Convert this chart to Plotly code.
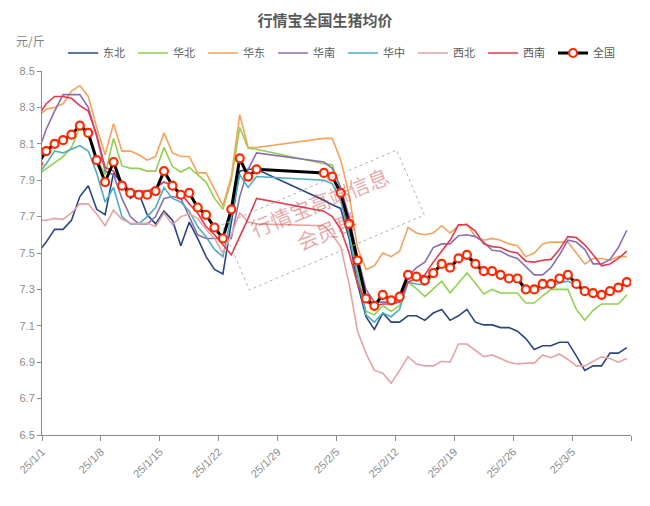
import pandas as pd
import plotly.graph_objects as go

# ---- categories (dates; 12/31 point only shows as the line entering the axis) ----
seg1 = pd.date_range("2024-12-31", "2025-01-26")
seg2 = pd.date_range("2025-02-03", "2025-03-11")
dates = [d.strftime("%Y-%m-%d 12:00") for d in list(seg1) + list(seg2)]

series_names = ["东北", "华北", "华东", "华南", "华中", "西北", "西南", "全国"]

dongbei = [7.50, 7.56, 7.63, 7.63, 7.68, 7.81, 7.87, 7.74, 7.71, 7.94, 7.88, 7.80, 7.83, 7.71, 7.66, 7.73, 7.68,
           7.54, 7.67, 7.58, 7.48, 7.41, 7.385, 7.66, 7.95, 7.96, 7.96,
           7.79, 7.765, 7.745, 7.58, 7.33, 7.15, 7.08, 7.17, 7.12, 7.12, 7.155, 7.155, 7.13, 7.17, 7.19, 7.13,
           7.155, 7.19, 7.12, 7.105, 7.105, 7.09, 7.09, 7.07, 7.03, 6.97, 6.99, 6.99, 7.01, 7.01, 6.935, 6.855,
           6.88, 6.88, 6.95, 6.95, 6.98]
huabei = [7.93, 7.965, 8.00, 8.03, 8.08, 8.19, 8.15, 8.02, 7.93, 8.13, 7.98, 7.965, 7.965, 7.95, 7.95, 8.08, 7.975,
          7.945, 7.97, 7.93, 7.89, 7.80, 7.74, 7.90, 8.19, 8.075, 8.07,
          7.99, 7.985, 7.85, 7.645, 7.41, 7.18, 7.16, 7.21, 7.18, 7.21, 7.34, 7.305, 7.26, 7.30, 7.345, 7.28,
          7.335, 7.39, 7.335, 7.275, 7.30, 7.28, 7.28, 7.28, 7.225, 7.225, 7.265, 7.30, 7.30, 7.30, 7.19, 7.13,
          7.185, 7.22, 7.22, 7.22, 7.27]
huadong = [8.25, 8.29, 8.30, 8.32, 8.39, 8.42, 8.36, 8.19, 8.04, 8.21, 8.06, 8.06, 8.04, 8.01, 8.03, 8.16, 8.05,
           8.03, 8.03, 7.94, 7.94, 7.85, 7.76, 7.92, 8.26, 8.08, 8.08,
           8.13, 8.13, 8.01, 7.82, 7.53, 7.41, 7.43, 7.50, 7.48, 7.51, 7.64, 7.61, 7.60, 7.61, 7.65, 7.61,
           7.65, 7.66, 7.59, 7.57, 7.58, 7.57, 7.55, 7.54, 7.48, 7.50, 7.55, 7.56, 7.56, 7.56, 7.50, 7.44,
           7.47, 7.47, 7.46, 7.48, 7.48]
huanan = [8.05, 8.18, 8.28, 8.37, 8.37, 8.37, 8.30, 8.14, 7.95, 7.93, 7.80, 7.70, 7.66, 7.66, 7.70, 7.80, 7.81,
          7.80, 7.70, 7.60, 7.58, 7.58, 7.58, 7.58, 7.81, 7.96, 8.05,
          8.00, 7.965, 7.86, 7.70, 7.48, 7.30, 7.23, 7.23, 7.23, 7.24, 7.37, 7.42, 7.45, 7.53, 7.55, 7.55,
          7.595, 7.60, 7.59, 7.56, 7.515, 7.51, 7.485, 7.47, 7.425, 7.38, 7.38, 7.42, 7.49, 7.57, 7.56, 7.52,
          7.44, 7.44, 7.465, 7.53, 7.625]
huazhong = [7.93, 7.99, 8.06, 8.05, 8.07, 8.09, 8.06, 7.94, 7.78, 7.86, 7.70, 7.66, 7.66, 7.70, 7.75, 7.86, 7.80,
            7.78, 7.73, 7.645, 7.59, 7.52, 7.48, 7.70, 7.93, 7.86, 7.92,
            7.90, 7.88, 7.79, 7.60, 7.37, 7.16, 7.12, 7.17, 7.15, 7.19, 7.34, 7.33, 7.325, 7.38, 7.435, 7.415,
            7.46, 7.48, 7.425, 7.395, 7.395, 7.38, 7.36, 7.35, 7.29, 7.29, 7.305, 7.315, 7.335, 7.345, 7.325, 7.28,
            7.27, 7.27, 7.28, 7.305, 7.335]
xibei = [7.68, 7.68, 7.69, 7.685, 7.72, 7.77, 7.77, 7.715, 7.65, 7.735, 7.685, 7.665, 7.66, 7.665, 7.645, 7.72, 7.655,
         7.70, 7.715, 7.69, 7.63, 7.58, 7.50, 7.60, 7.72, 7.67, 7.66,
         7.65, 7.60, 7.535, 7.33, 7.07, 6.95, 6.855, 6.84, 6.785, 6.855, 6.93, 6.89, 6.88, 6.88, 6.905, 6.90,
         7.00, 7.00, 6.965, 6.93, 6.94, 6.92, 6.90, 6.89, 6.895, 6.895, 6.94, 6.925, 6.945, 6.915, 6.88, 6.88,
         6.905, 6.93, 6.92, 6.90, 6.92]
xinan = [8.25, 8.32, 8.36, 8.36, 8.35, 8.31, 8.28, 8.15, 7.97, 7.95, 7.89, 7.84, 7.84, 7.84, 7.86, 7.89, 7.87,
         7.83, 7.77, 7.72, 7.645, 7.60, 7.545, 7.49, 7.59, 7.69, 7.80,
         7.73, 7.70, 7.63, 7.50, 7.33, 7.23, 7.21, 7.22, 7.22, 7.23, 7.34, 7.36, 7.38, 7.45, 7.51, 7.57,
         7.655, 7.655, 7.62, 7.55, 7.535, 7.53, 7.51, 7.50, 7.455, 7.45, 7.46, 7.465, 7.52, 7.59, 7.585, 7.545,
         7.49, 7.43, 7.44, 7.47, 7.51]
quanguo = [7.99, 8.06, 8.10, 8.12, 8.15, 8.20, 8.16, 8.01, 7.89, 8.00, 7.87, 7.83, 7.82, 7.82, 7.84, 7.95, 7.87,
           7.82, 7.83, 7.75, 7.71, 7.64, 7.58, 7.74, 8.02, 7.92, 7.96,
           7.94, 7.92, 7.83, 7.66, 7.46, 7.25, 7.21, 7.27, 7.24, 7.26, 7.38, 7.37, 7.35, 7.39, 7.44, 7.42,
           7.47, 7.49, 7.44, 7.40, 7.40, 7.38, 7.36, 7.36, 7.30, 7.30, 7.33, 7.33, 7.36, 7.38, 7.33, 7.29,
           7.28, 7.27, 7.29, 7.31, 7.34]

tick_dates = ["2025-01-01", "2025-01-08", "2025-01-15", "2025-01-22", "2025-01-29", "2025-02-05",
              "2025-02-12", "2025-02-19", "2025-02-26", "2025-03-05", "2025-03-12"]
tick_labels = ["25/1/1", "25/1/8", "25/1/15", "25/1/22", "25/1/29", "25/2/5",
               "25/2/12", "25/2/19", "25/2/26", "25/3/5", ""]
y_ticks = [6.5, 6.7, 6.9, 7.1, 7.3, 7.5, 7.7, 7.9, 8.1, 8.3, 8.5]

colors = ["#2B4584", "#92D050", "#F7A25A", "#8A6DB5", "#4BACC6", "#E6A3A3", "#E23A4E"]
values = [dongbei, huabei, huadong, huanan, huazhong, xibei, xinan]

CJK = "Noto Sans CJK SC"
fig = go.Figure()
for name, vals, col in zip(series_names[:7], values, colors):
    fig.add_trace(go.Scatter(x=dates, y=vals, name=name, mode="lines",
                             line=dict(color=col, width=1.6)))
fig.add_trace(go.Scatter(x=dates, y=quanguo, name=series_names[7], mode="lines+markers",
                         line=dict(color="#000000", width=3),
                         marker=dict(symbol="circle", size=8, color="#FFFFFF",
                                     line=dict(color="#FF2A00", width=2.2))))

# plot-area geometry (pixels) used to place decorations
W, H = 650, 506
ML, MR, MT, MB = 42, 19, 71, 71
PW, PH = W - ML - MR, H - MT - MB


def px(x):
    return (x - ML) / PW


def py(y):
    return (H - MB - y) / PH


box = [(221.7, 225), (396.7, 150), (424.3, 215), (249.3, 290)]
path = "M " + " L ".join(f"{px(a):.4f} {py(b):.4f}" for a, b in box) + " Z"

fig.update_layout(
    width=W, height=H,
    margin=dict(l=ML, r=MR, t=MT, b=MB),
    paper_bgcolor="white", plot_bgcolor="white",
    title=dict(text="行情宝全国生猪均价", x=0.5, xanchor="center", xref="container",
               y=1 - 21 / H, yanchor="middle", yref="container",
               font=dict(family=CJK, size=15, color="#595959", weight="bold")),
    showlegend=True,
    legend=dict(orientation="h", x=px(63), xanchor="left", y=py(53), yanchor="middle",
                font=dict(family=CJK, size=11, color="#595959"),
                entrywidth=25, entrywidthmode="pixels", itemwidth=30,
                bgcolor="rgba(0,0,0,0)", traceorder="normal"),
    xaxis=dict(type="date", range=["2025-01-01", "2025-03-12"],
               tickmode="array", tickvals=tick_dates, ticktext=tick_labels,
               tickangle=-45, ticks="outside", ticklen=5, tickcolor="#8c8c8c",
               showline=True, linecolor="#8c8c8c", linewidth=1, showgrid=False, zeroline=False,
               tickfont=dict(family="Liberation Sans Narrow, Liberation Sans", size=11, color="#8c8c8c")),
    yaxis=dict(range=[6.5, 8.5], tickmode="array", tickvals=y_ticks,
               ticktext=[f"{v:.1f}" for v in y_ticks],
               ticks="outside", ticklen=4, tickcolor="#8c8c8c",
               showline=True, linecolor="#8c8c8c", linewidth=1, showgrid=False, zeroline=False,
               tickfont=dict(family="Liberation Sans Narrow, Liberation Sans", size=11, color="#8c8c8c")),
    shapes=[dict(type="path", xref="paper", yref="paper", path=path,
                 line=dict(color="#b5b5b5", width=1, dash="dot"), fillcolor="rgba(0,0,0,0)")],
    annotations=[
        dict(text="元/斤", xref="paper", yref="paper", x=px(30), y=py(40), showarrow=False,
             xanchor="center", yanchor="middle", font=dict(family=CJK, size=12, color="#7f7f7f")),
        dict(text="行情宝高端信息", xref="paper", yref="paper", x=px(319), y=py(202), showarrow=False,
             textangle=-22, font=dict(family=CJK, size=21, color="rgba(205,60,60,0.45)")),
        dict(text="会员群", xref="paper", yref="paper", x=px(326), y=py(231), showarrow=False,
             textangle=-22, font=dict(family=CJK, size=21, color="rgba(205,60,60,0.45)")),
    ],
)

fig.write_html("out.html")
